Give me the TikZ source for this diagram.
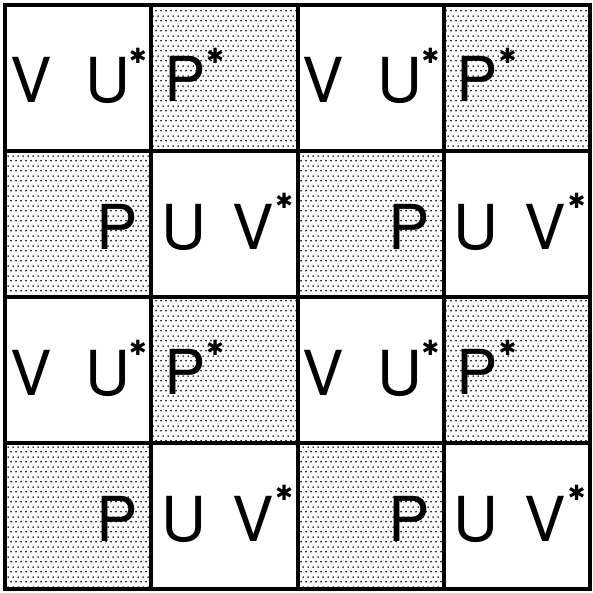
\documentclass[tikz,border=0pt]{standalone}
\usepackage{fontspec}
\setmainfont{TeX Gyre Heros}
\newfontfamily\starfont{DejaVu Sans}
\usetikzlibrary{patterns}
\pgfdeclarepatternformonly{mydots}{\pgfpointorigin}{\pgfqpoint{5pt}{10pt}}{\pgfqpoint{5pt}{10pt}}{%
  \pgfpathcircle{\pgfqpoint{1.25pt}{2.5pt}}{1.05pt}%
  \pgfpathcircle{\pgfqpoint{3.75pt}{7.5pt}}{1.05pt}%
  \pgfusepath{fill}}
\begin{document}
\begin{tikzpicture}[x=1pt,y=-1pt,
  cellbox/.style={minimum width=146.25pt, minimum height=146pt, inner sep=0, outer sep=0},
  dotcell/.style={cellbox, pattern=mydots, pattern color=black},
  plaincell/.style={cellbox, fill=white},
  letter/.style={anchor=base west, inner sep=0, font=\fontsize{62}{62}\selectfont},
  starmark/.style={anchor=center, inner sep=0, font=\starfont\bfseries\fontsize{21}{21}\selectfont}]
\useasboundingbox (0,0) rectangle (592,593);
\fill[white] (0,0) rectangle (592,593);
\foreach \r in {0,...,3}{
  \foreach \c in {0,...,3}{
    \pgfmathsetmacro\cx{5+146.25*\c}
    \pgfmathsetmacro\cy{5+146*\r}
    \pgfmathtruncatemacro\s{mod(\r+\c,2)}
    \pgfmathtruncatemacro\ro{mod(\r,2)}
    \ifnum\s=1
      \node[dotcell] (c-\r-\c) at (\cx+73.125,\cy+73) {};
      \ifnum\ro=0
        \node[letter] (p-\r-\c) at (\cx+13,\cy+97) {P};
        \node[starmark] (s-\r-\c) at (\cx+64,\cy+51) {✱};
      \else
        \node[letter] (p-\r-\c) at (\cx+91,\cy+98) {P};
      \fi
    \else
      \node[plaincell] (c-\r-\c) at (\cx+73.125,\cy+73) {};
      \ifnum\ro=0
        \node[letter] (v-\r-\c) at (\cx+5,\cy+98) {V};
        \node[letter] (u-\r-\c) at (\cx+80,\cy+98) {U};
        \node[starmark] (s-\r-\c) at (\cx+133,\cy+51) {✱};
      \else
        \node[letter] (u-\r-\c) at (\cx+10,\cy+98) {U};
        \node[letter] (v-\r-\c) at (\cx+81,\cy+98) {V};
        \node[starmark] (s-\r-\c) at (\cx+133,\cy+50) {✱};
      \fi
    \fi
  }
}
\foreach \r in {0,...,3}{
  \foreach \c in {0,...,3}{
    \draw[line width=4pt] (c-\r-\c.north west) rectangle (c-\r-\c.south east);
  }
}
\end{tikzpicture}
\end{document}
